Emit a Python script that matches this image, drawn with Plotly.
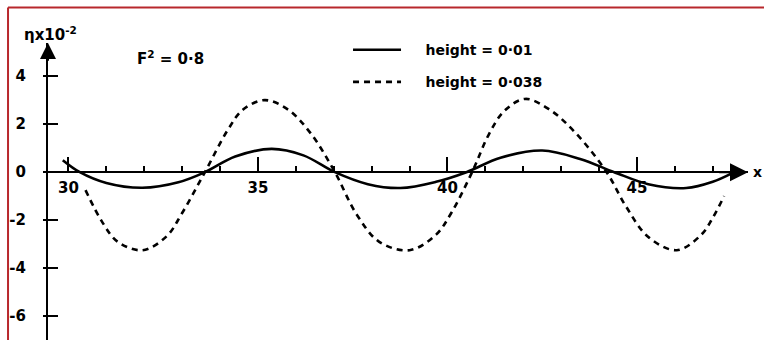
import plotly.graph_objects as go

# ---- data ----
solid_x = [29.85, 30.3, 31.0, 31.95, 32.9, 33.6, 34.4, 35.36, 36.2, 37.03, 37.9, 38.76, 39.7, 40.5, 41.4, 42.5, 43.5, 44.4, 45.3, 46.3, 47.0, 47.5]
solid_y = [0.5, 0.0, -0.45, -0.65, -0.42, 0.0, 0.65, 0.97, 0.7, 0.0, -0.5, -0.66, -0.4, 0.0, 0.6, 0.9, 0.55, 0.0, -0.5, -0.66, -0.4, -0.05]

dashed_x = [30.45, 30.9, 31.3, 31.95, 32.59, 33.0, 33.6, 34.2, 34.6, 35.18, 35.8, 36.4, 37.03, 37.6, 38.2, 39.0, 39.7, 40.1, 40.65, 41.1, 41.5, 42.05, 42.7, 43.4, 44.2, 44.7, 45.3, 46.05, 46.7, 47.0, 47.3]
dashed_y = [-0.75, -2.1, -2.9, -3.25, -2.67, -1.7, 0.0, 1.75, 2.6, 3.0, 2.6, 1.6, 0.0, -1.75, -2.9, -3.25, -2.6, -1.7, 0.0, 1.6, 2.55, 3.05, 2.6, 1.6, 0.0, -1.4, -2.7, -3.25, -2.6, -1.9, -1.0]

x_ticks = [30, 35, 40, 45]
x_tick_text = ["30", "35", "40", "45"]
y_ticks = [-6, -4, -2, 0, 2, 4]
y_tick_text = ["-6", "-4", "-2", "0", "2", "4"]
y_cross_ticks = [-6, -4, -2, 2, 4]

series_names = ["height = 0·01", "height = 0·038"]
froude_label = "F<sup>2</sup> = 0·8"
y_label = "ηx10<sup>-2</sup>"

X_RANGE = [29.46, 47.93]
Y_RANGE = [-6.99, 5.38]

FONT = "DejaVu Sans"
RED = "#b8282c"
PAD = "\u00a0" * 4

fig = go.Figure()
fig.add_trace(go.Scatter(
    x=solid_x, y=solid_y, mode="lines", name=PAD + series_names[0],
    line=dict(color="black", width=2.6, shape="spline"),
    legendgroup="a", cliponaxis=False))
fig.add_trace(go.Scatter(
    x=dashed_x, y=dashed_y, mode="lines", name=PAD + series_names[1],
    line=dict(color="black", width=2.6, dash="6px,5px", shape="spline"),
    legendgroup="b", cliponaxis=False, yaxis="y2"))

pos0 = (0 - Y_RANGE[0]) / (Y_RANGE[1] - Y_RANGE[0])

fig.update_layout(
    width=764, height=340,
    margin=dict(l=48, r=16, t=43, b=0),
    paper_bgcolor="white", plot_bgcolor="white",
    font=dict(family=FONT, size=14, color="black", weight="bold"),
    showlegend=True,
    legend=dict(
        x=0.4286, y=1.03, xanchor="left", yanchor="top",
        bgcolor="rgba(0,0,0,0)", borderwidth=0,
        itemwidth=48, tracegroupgap=11,
        font=dict(family=FONT, size=14, color="black", weight="bold"),
        traceorder="grouped"),
    xaxis=dict(
        range=X_RANGE, anchor="free", position=pos0,
        showline=True, linecolor="black", linewidth=2,
        showgrid=False, zeroline=False,
        tickmode="array", tickvals=x_ticks, ticktext=x_tick_text,
        ticks="inside", ticklen=14, tickwidth=2, tickcolor="black",
        minor=dict(tickmode="linear", tick0=30, dtick=1, ticks="inside",
                   ticklen=5, tickwidth=1.5, tickcolor="black", showgrid=False),
        tickfont=dict(family=FONT, size=15, color="black", weight="bold"),
        ticklabelstandoff=2),
    yaxis=dict(
        range=Y_RANGE, showline=True, linecolor="black", linewidth=2,
        showgrid=False, zeroline=False,
        tickmode="array", tickvals=y_ticks, ticktext=y_tick_text,
        ticks="outside", ticklen=3, tickwidth=2, tickcolor="black",
        tickfont=dict(family=FONT, size=15, color="black", weight="bold"),
        ticklabelstandoff=14),
    yaxis2=dict(
        range=Y_RANGE, overlaying="y", side="left", anchor="x",
        showline=False, showgrid=False, zeroline=False,
        tickmode="array", tickvals=y_cross_ticks,
        ticks="inside", ticklen=10, tickwidth=2, tickcolor="black",
        showticklabels=False),
)

# red frame of the scanned figure
fig.add_shape(type="line", xref="paper", yref="paper",
              x0=-0.0571, x1=1.03, y0=1.1195, y1=1.1195,
              line=dict(color=RED, width=2))
fig.add_shape(type="line", xref="paper", yref="paper",
              x0=-0.0571, x1=-0.0571, y0=-0.01, y1=1.1195,
              line=dict(color=RED, width=2))

# axis arrowheads
fig.add_annotation(x=X_RANGE[1], y=0, ax=X_RANGE[1] - 0.8, ay=0,
                   xref="x", yref="y", axref="x", ayref="y",
                   text="", showarrow=True, arrowhead=2, arrowsize=1.8,
                   arrowwidth=2, arrowcolor="black")
fig.add_annotation(x=X_RANGE[0], y=Y_RANGE[1], ax=X_RANGE[0], ay=Y_RANGE[1] - 0.8,
                   xref="x", yref="y", axref="x", ayref="y",
                   text="", showarrow=True, arrowhead=2, arrowsize=1.6,
                   arrowwidth=2, arrowcolor="black")

# labels
fig.add_annotation(x=1.0136, y=0, xref="paper", yref="y", text="x",
                   showarrow=False, xanchor="center",
                   font=dict(family=FONT, size=14, color="black", weight="bold"))
fig.add_annotation(x=0.003, y=1.03, xref="paper", yref="paper", text=y_label,
                   showarrow=False, xanchor="center", yanchor="middle",
                   font=dict(family=FONT, size=15, color="black", weight="bold"))
fig.add_annotation(x=32.68, y=4.77, xref="x", yref="y", text=froude_label,
                   showarrow=False,
                   font=dict(family=FONT, size=15, color="black", weight="bold"))

fig.write_html("out.html")
